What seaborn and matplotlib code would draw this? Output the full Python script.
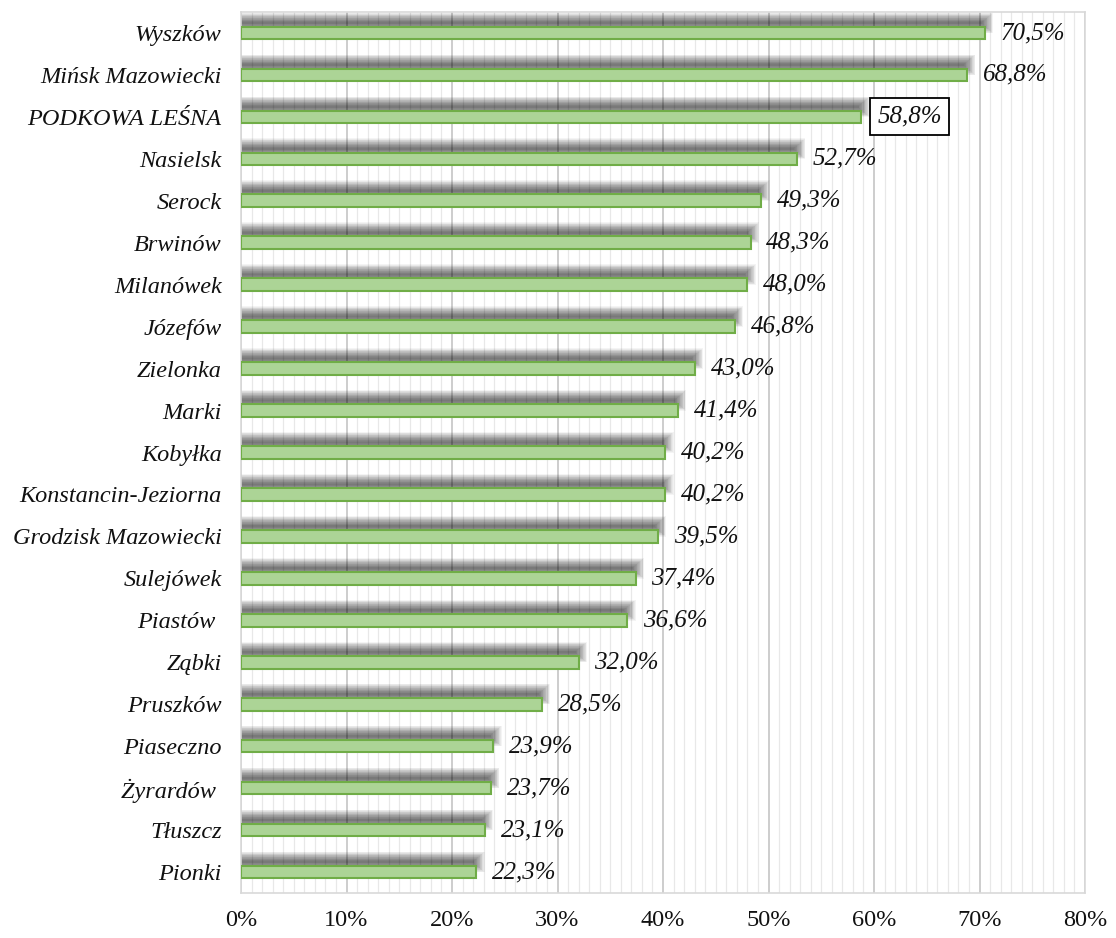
import matplotlib
matplotlib.use("Agg")
import matplotlib.pyplot as plt
import seaborn as sns
import pandas as pd
import numpy as np

categories = ["Wyszków", "Mińsk Mazowiecki", "PODKOWA LEŚNA", "Nasielsk", "Serock",
              "Brwinów", "Milanówek", "Józefów", "Zielonka", "Marki", "Kobyłka",
              "Konstancin-Jeziorna", "Grodzisk Mazowiecki", "Sulejówek", "Piastów ",
              "Ząbki", "Pruszków", "Piaseczno", "Żyrardów ", "Tłuszcz", "Pionki"]
values = [70.5, 68.8, 58.8, 52.7, 49.3, 48.3, 48.0, 46.8, 43.0, 41.4, 40.2,
          40.2, 39.5, 37.4, 36.6, 32.0, 28.5, 23.9, 23.7, 23.1, 22.3]
labels = ["70,5%", "68,8%", "58,8%", "52,7%", "49,3%", "48,3%", "48,0%", "46,8%",
          "43,0%", "41,4%", "40,2%", "40,2%", "39,5%", "37,4%", "36,6%", "32,0%",
          "28,5%", "23,9%", "23,7%", "23,1%", "22,3%"]
xticks = [0, 10, 20, 30, 40, 50, 60, 70, 80]
highlight = "PODKOWA LEŚNA"

df = pd.DataFrame({"city": categories, "value": values, "label": labels})

sns.set_theme(style="white")
plt.rcParams['font.family'] = ['Liberation Serif', 'DejaVu Serif']

fig = plt.figure(figsize=(11.16, 9.38), dpi=100)
ax = fig.add_axes([241/1116, 1-893/938, (1085-241)/1116, (893-12)/938])

# grid
for x in np.arange(0, 81, 1):
    ax.axvline(x, color="#e8e8e8" if x % 10 else "#cdcdcd", lw=0.9 if x % 10 else 1.4, zorder=0)

pos = np.arange(len(categories))
# soft blurred shadow above bars
n = 16
for k in range(n):
    h = 0.04 + 0.03 * k
    ext = 0.05 + 0.07 * k
    ax.barh(pos - 0.24, df["value"] + 2 * ext, height=h, left=-ext - 0.3,
            color="#000000", alpha=0.045, lw=0, zorder=1)

sns.barplot(data=df, y="city", x="value", orient="h", ax=ax, width=0.3,
            color="#acd496", edgecolor="#70ad47", linewidth=1.5, saturation=1, zorder=3)

for i, (v, lab, c) in enumerate(zip(df["value"], df["label"], df["city"])):
    kw = dict(va="center", ha="left", style="italic", fontsize=18, color="#111111", zorder=5)
    if c == highlight:
        ax.text(v + 1.5, i, lab, bbox=dict(boxstyle="square,pad=0.3", fc="white", ec="black", lw=1.3), **kw)
    else:
        ax.text(v + 1.5, i, lab, **kw)

ax.set_xlim(0, 80)
ax.set_ylim(len(categories) - 0.5, -0.5)
ax.set_xticks(xticks)
ax.set_xticklabels([f"{t}%" for t in xticks], fontsize=17.5, color="#111111")
ax.set_xlabel("")
ax.set_ylabel("")
ax.set_yticks(pos)
ax.set_yticklabels(categories, fontsize=17.5, style="italic", color="#111111")
ax.tick_params(axis="y", length=0, pad=14)
ax.tick_params(axis="x", length=0, pad=12)
for s in ax.spines.values():
    s.set_color("#d9d9d9")
    s.set_linewidth(1.2)

fig.savefig("out.png", dpi=100)
